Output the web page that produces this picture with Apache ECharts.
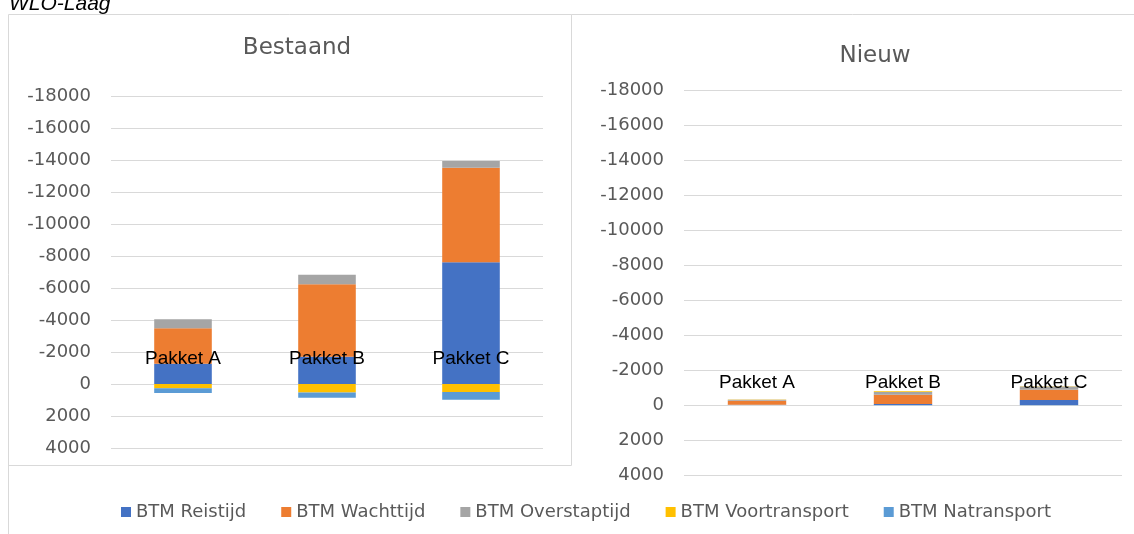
<!DOCTYPE html>
<html lang="nl">
<head>
<meta charset="UTF-8">
<title>WLO-Laag</title>
<script src="https://cdn.jsdelivr.net/npm/echarts@6/dist/echarts.min.js"></script>
<style>
  * { margin: 0; padding: 0 }
  html, body { width: 100%; height: 100%; background: #fff; }
  #main { width: 1134px; height: 534px; }
</style>
</head>
<body>
<div id="main"></div>
<script type="text/javascript">
// categorieen en reeksen (negatief = omhoog, as is omgekeerd)
var pakketten = ['Pakket A', 'Pakket B', 'Pakket C'];
var reeksNamen = ['BTM Reistijd', 'BTM Wachttijd', 'BTM Overstaptijd', 'BTM Voortransport', 'BTM Natransport'];
var kleuren = ['#4472C4', '#ED7D31', '#A5A5A5', '#FFC000', '#5B9BD5'];

var bestaandReistijd = [-1260, -1710, -7610];
var bestaandWachttijd = [-2230, -4530, -5900];
var bestaandOverstaptijd = [-560, -585, -420];
var bestaandVoortransport = [270, 530, 500];
var bestaandNatransport = [290, 330, 480];

var nieuwReistijd = [-20, -60, -290];
var nieuwWachttijd = [-230, -520, -580];
var nieuwOverstaptijd = [-50, -170, -190];
var nieuwVoortransport = [-10, -30, -10];
var nieuwNatransport = [5, 10, 10];

var bestaand = [bestaandReistijd, bestaandWachttijd, bestaandOverstaptijd, bestaandVoortransport, bestaandNatransport];
var nieuw = [nieuwReistijd, nieuwWachttijd, nieuwOverstaptijd, nieuwVoortransport, nieuwNatransport];

var asFont = 'DejaVu Sans';
var grijs = '#595959';
var lijn = '#d9d9d9';

function yAs(idx) {
    return {
        type: 'value', gridIndex: idx, inverse: true,
        min: -18000, max: 4000, interval: 2000,
        axisLine: { show: false }, axisTick: { show: false },
        axisLabel: {
            color: grijs, fontSize: 18, fontFamily: asFont, margin: 20,
            formatter: function (v) { return String(v); }
        },
        splitLine: { lineStyle: { color: lijn, width: 1 } }
    };
}

// categorie-as op de nullijn: verschoven vanaf de onderkant van het grid
function xAs(idx, verschuiving, marge) {
    return {
        type: 'category', gridIndex: idx, data: pakketten, z: 10,
        offset: verschuiving,
        axisLine: { show: false, onZero: false },
        axisTick: { show: false },
        axisLabel: { inside: true, margin: marge, color: '#000', fontSize: 19, fontFamily: 'Liberation Sans' }
    };
}

var series = [];
[bestaand, nieuw].forEach(function (set, g) {
    set.forEach(function (vals, i) {
        series.push({
            name: reeksNamen[i], type: 'bar', stack: 'p' + g,
            xAxisIndex: g, yAxisIndex: g,
            barWidth: '40%', data: vals,
            itemStyle: { color: kleuren[i] }
        });
    });
});

var myChart = echarts.init(document.getElementById('main'));
var option = {
    animation: false,
    color: kleuren,
    grid: [
        { left: 111, right: 591, top: 96, bottom: 86 },
        { left: 684, right: 12, top: 90, bottom: 59 }
    ],
    xAxis: [xAs(0, -64, 16), xAs(1, -70, 13)],
    yAxis: [yAs(0), yAs(1)],
    legend: {
        data: reeksNamen, left: 116, top: 498,
        icon: 'rect', itemWidth: 10, itemHeight: 10, itemGap: 35,
        textStyle: { color: grijs, fontSize: 18, fontFamily: asFont }
    },
    graphic: [
        { type: 'polyline', silent: true, shape: { points: [[8.5, 534], [8.5, 14.5], [1134, 14.5]] }, style: { stroke: lijn, lineWidth: 1, fill: null } },
        { type: 'polyline', silent: true, shape: { points: [[8.5, 465.5], [571.5, 465.5], [571.5, 14.5]] }, style: { stroke: lijn, lineWidth: 1, fill: null } },
        { type: 'text', x: 9, y: 4, style: { text: 'WLO-Laag', fill: '#000', font: 'italic 21px Liberation Sans', align: 'left', verticalAlign: 'middle' } },
        { type: 'text', x: 297, y: 48, style: { text: 'Bestaand', fill: grijs, font: '23px DejaVu Sans', align: 'center', verticalAlign: 'middle' } },
        { type: 'text', x: 875, y: 56, style: { text: 'Nieuw', fill: grijs, font: '23px DejaVu Sans', align: 'center', verticalAlign: 'middle' } }
    ],
    series: series
};
myChart.setOption(option);
</script>
</body>
</html>
